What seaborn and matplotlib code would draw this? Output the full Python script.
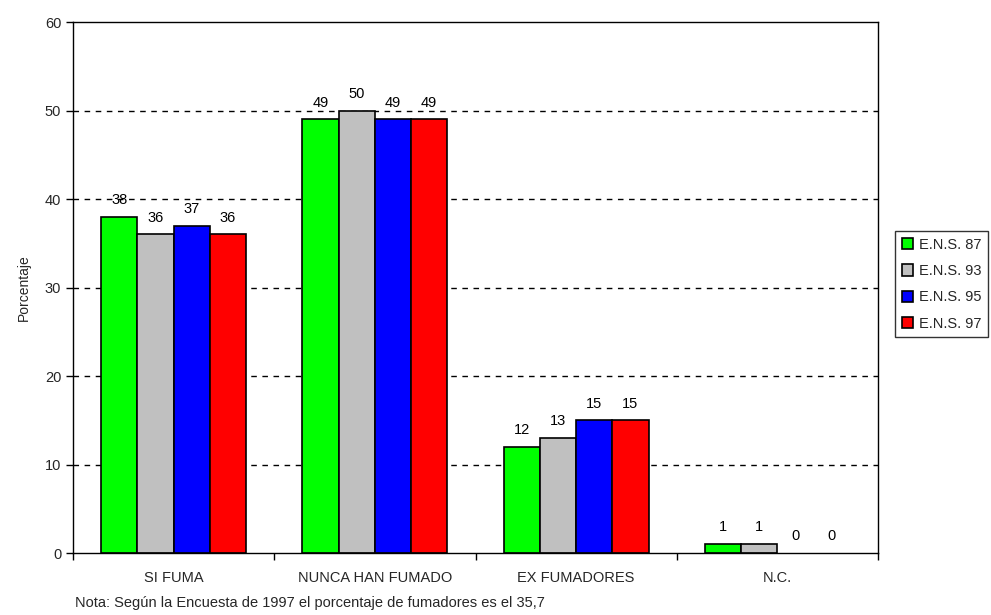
import matplotlib
matplotlib.use("Agg")
import matplotlib.pyplot as plt
from matplotlib.ticker import FixedLocator
import seaborn as sns
import pandas as pd

categorias = ["SI FUMA", "NUNCA HAN FUMADO", "EX FUMADORES", "N.C."]
series = ["E.N.S. 87", "E.N.S. 93", "E.N.S. 95", "E.N.S. 97"]
ens87 = [38, 49, 12, 1]
ens93 = [36, 50, 13, 1]
ens95 = [37, 49, 15, 0]
ens97 = [36, 49, 15, 0]
colores = ["#00ff00", "#c0c0c0", "#0000ff", "#ff0000"]
yticks = [0, 10, 20, 30, 40, 50, 60]
nota = "Nota: Según la Encuesta de 1997 el porcentaje de fumadores es el 35,7"

rows = []
for s, vals in zip(series, [ens87, ens93, ens95, ens97]):
    for c, v in zip(categorias, vals):
        rows.append({"categoria": c, "serie": s, "valor": v})
df = pd.DataFrame(rows)

sns.set_theme(style="white")
plt.rcParams["font.family"] = ["Liberation Sans", "DejaVu Sans"]

fig = plt.figure(figsize=(9.91, 6.15), dpi=100)
ax = fig.add_axes([0.0737, 0.1008, 0.8123, 0.8634])

sns.barplot(data=df, x="categoria", y="valor", hue="serie", order=categorias,
            hue_order=series, palette=colores, width=0.72, gap=0,
            edgecolor="black", linewidth=1.2, saturation=1, ax=ax)

# bars with zero height leave no outline on the baseline
for cont in ax.containers:
    for p in cont.patches:
        if p.get_height() == 0:
            p.set_edgecolor("none")
    ax.bar_label(cont, fmt="%d", padding=7, fontsize=10.5, color="black")

ax.set_ylim(0, 60)
ax.set_xlim(-0.5, 3.5)
ax.set_yticks(yticks)
for y in yticks[1:-1]:
    ax.axhline(y, color="black", linestyle=(0, (4, 4)), linewidth=1, zorder=0)

ax.set_xlabel("")
ax.set_ylabel("Porcentaje", fontsize=10, labelpad=10)
ax.tick_params(axis="x", which="major", length=0, labelsize=10.5, pad=13)
ax.xaxis.set_minor_locator(FixedLocator([-0.5, 0.5, 1.5, 2.5, 3.5]))
ax.tick_params(axis="x", which="minor", length=5, width=1, color="black", bottom=True)
ax.tick_params(axis="y", length=5, width=1, color="black", left=True, labelsize=10.5)
for sp in ax.spines.values():
    sp.set_color("black")
    sp.set_linewidth(1)

leg = ax.legend(loc="upper left", bbox_to_anchor=(1.012, 0.62), frameon=True,
                fancybox=False, edgecolor="black", fontsize=10.5, handlelength=0.8,
                handleheight=0.8, handletextpad=0.4, borderpad=0.45, labelspacing=0.85)
leg.get_frame().set_linewidth(1)
for h in leg.legend_handles:
    h.set_edgecolor("black")

fig.text(0.076, 0.008, nota, fontsize=10.5, ha="left", va="bottom")

fig.savefig("out.png", dpi=100)
